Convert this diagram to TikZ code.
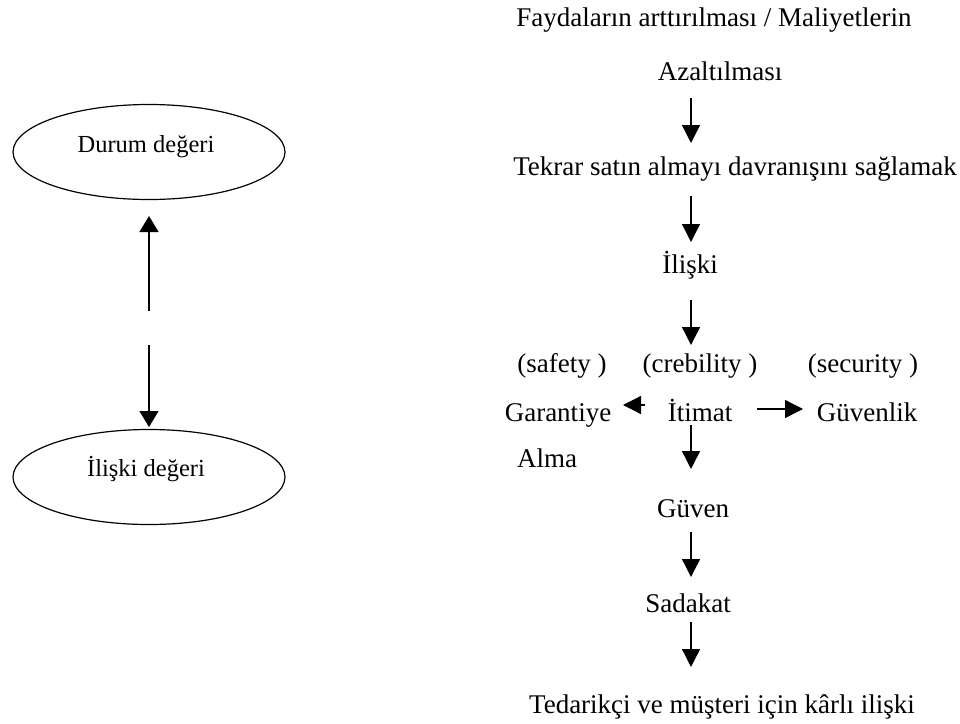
\documentclass[tikz,border=0pt]{standalone}
\usepackage{fontspec}
\setmainfont{Liberation Serif}
\usetikzlibrary{arrows.meta,shapes.geometric}
\begin{document}
\begin{tikzpicture}[x=1pt,y=-1pt,
  lbl/.style={inner sep=0pt,anchor=base,font=\fontsize{27}{32}\selectfont},
  small/.style={inner sep=0pt,anchor=base,font=\fontsize{24.5}{29}\selectfont},
  oval/.style={draw,line width=1.2pt,ellipse,minimum width=272pt,minimum height=95pt},
  arr/.style={line width=1.3pt,-{Triangle[length=18pt,width=18pt]}},
  larr/.style={line width=1.3pt,-{Triangle[length=16pt,width=19pt]}}]
\useasboundingbox (0,0) rectangle (960,723);
% left part
\node[oval] (e1) at (149,152) {};
\node[oval] (e2) at (149,477) {};
\node[small] (t1) at (146,152) {Durum değeri};
\node[small] (t2) at (146,476) {İlişki değeri};
\coordinate (u1) at (149,311);
\coordinate (u2) at (149,345);
\draw[larr] (u1) -- (e1.south |- 0,216);
\draw[larr] (u2) -- (e2.north |- 0,427);
% right part
\node[lbl] (f1) at (714,26) {Faydaların arttırılması / Maliyetlerin};
\node[lbl] (f2) at (720,80) {Azaltılması};
\node[lbl] (tk) at (735,175) {Tekrar satın almayı davranışını sağlamak};
\node[lbl] (il) at (690,273) {İlişki};
\node[lbl] (sf) at (562,372) {(safety )};
\node[lbl] (cr) at (700,372) {(crebility )};
\node[lbl] (sc) at (863,372) {(security )};
\node[lbl] (ga) at (558,421) {Garantiye};
\node[lbl] (it) at (700,421) {İtimat};
\node[lbl] (gl) at (867,421) {Güvenlik};
\node[lbl] (al) at (547,467) {Alma};
\node[lbl] (gv) at (693,517) {Güven};
\node[lbl] (sd) at (688,612) {Sadakat};
\node[lbl] (td) at (722,713) {Tedarikçi ve müşteri için kârlı ilişki};
% arrows
\coordinate (a1s) at (691,98);   \coordinate (a1e) at (691,143);
\coordinate (a2s) at (691,196);  \coordinate (a2e) at (691,242);
\coordinate (a3s) at (691,300);  \coordinate (a3e) at (691,345);
\coordinate (a4s) at (691,425);  \coordinate (a4e) at (691,469);
\coordinate (a5s) at (691,532);  \coordinate (a5e) at (691,577);
\coordinate (a6s) at (691,622);  \coordinate (a6e) at (691,667);
\draw[arr] (a1s) -- (a1e);
\draw[arr] (a2s) -- (a2e);
\draw[arr] (a3s) -- (a3e);
\draw[arr] (a4s) -- (a4e);
\draw[arr] (a5s) -- (a5e);
\draw[arr] (a6s) -- (a6e);
\coordinate (lls) at (645,405); \coordinate (lle) at (623,405);
\draw[arr] (lls) -- (lle);
\coordinate (rrs) at (757,409); \coordinate (rre) at (803,409);
\draw[arr] (rrs) -- (rre);
\end{tikzpicture}
\end{document}
